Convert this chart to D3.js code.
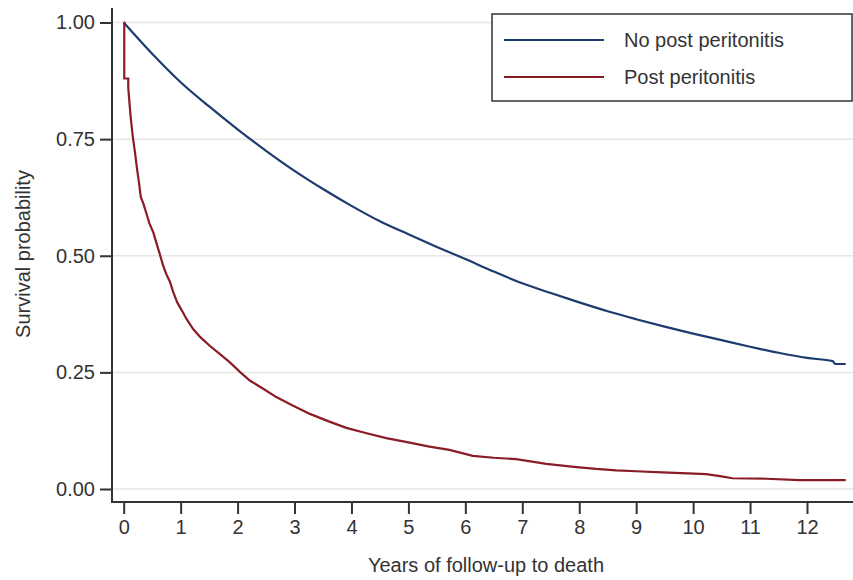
<!DOCTYPE html>
<html lang="en">
<head>
<meta charset="utf-8">
<title>Survival by peritonitis</title>
<script src="https://cdn.jsdelivr.net/npm/d3@7"></script>
<style>
  body { margin: 0; background: #fff; }
  text { font-family: "Liberation Sans", Arial, sans-serif; fill: #333; }
</style>
</head>
<body>
<script>
// series names
var seriesNames = ["No post peritonitis", "Post peritonitis"];

// No post peritonitis (years, survival)
var noPostT = [0, 0.5, 1, 1.5, 2, 2.5, 3, 3.5, 4, 4.5, 5, 5.5, 6, 6.5, 7, 7.5, 8, 8.5, 9, 9.5, 10, 10.5, 11, 11.5, 12, 12.45, 12.5, 12.68];
var noPostS = [1.00, 0.933, 0.872, 0.820, 0.771, 0.725, 0.682, 0.643, 0.607, 0.574, 0.546, 0.519, 0.493, 0.466, 0.441, 0.420, 0.400, 0.381, 0.364, 0.348, 0.333, 0.319, 0.305, 0.292, 0.281, 0.274, 0.268, 0.268];

// Post peritonitis (corners included)
var postT = [0, 0.01, 0.01, 0.08, 0.08, 0.12, 0.16, 0.20, 0.23, 0.27, 0.30, 0.35, 0.40, 0.45, 0.52, 0.58, 0.63, 0.69, 0.75, 0.81, 0.87, 0.94, 1.02, 1.10, 1.22, 1.35, 1.51, 1.68, 1.86, 2.05, 2.22, 2.45, 2.68, 2.95, 3.27, 3.6, 3.91, 4.25, 4.61, 5.0, 5.37, 5.72, 6.13, 6.5, 6.89, 7.2, 7.42, 7.95, 8.3, 8.65, 9.0, 9.35, 9.8, 10.23, 10.5, 10.69, 11.28, 11.87, 12.68];
var postS = [1.00, 1.00, 0.88, 0.88, 0.86, 0.80, 0.755, 0.72, 0.69, 0.655, 0.626, 0.61, 0.59, 0.57, 0.55, 0.525, 0.505, 0.48, 0.46, 0.445, 0.422, 0.40, 0.383, 0.365, 0.343, 0.325, 0.307, 0.29, 0.272, 0.25, 0.232, 0.215, 0.197, 0.18, 0.161, 0.145, 0.131, 0.12, 0.109, 0.10, 0.091, 0.084, 0.071, 0.067, 0.064, 0.058, 0.054, 0.047, 0.043, 0.040, 0.038, 0.036, 0.034, 0.032, 0.027, 0.023, 0.022, 0.019, 0.019];

var xTicks = [0, 1, 2, 3, 4, 5, 6, 7, 8, 9, 10, 11, 12];
var yTicks = [0, 0.25, 0.5, 0.75, 1];
var colors = ["#1c3b6e", "#8a1c28"];

var W = 853, H = 580;
var svg = d3.select("body").append("svg").attr("width", W).attr("height", H);

var axisX = 112, axisY = 502;
var x = d3.scaleLinear().domain([0, 12]).range([123.7, 807]);
var y = d3.scaleLinear().domain([0, 1]).range([489, 22.5]);

// gridlines
svg.selectAll("line.grid").data(yTicks).enter().append("line")
  .attr("x1", axisX).attr("x2", W)
  .attr("y1", function(d){ return y(d); }).attr("y2", function(d){ return y(d); })
  .attr("stroke", "#e6e6e6").attr("stroke-width", 1.5);

// y axis
var yAxis = svg.append("g").attr("transform", "translate(" + axisX + ",0)")
  .call(d3.axisLeft(y).tickValues(yTicks).tickFormat(d3.format(".2f")).tickSize(12).tickPadding(5));
// x axis
var xAxis = svg.append("g").attr("transform", "translate(0," + axisY + ")")
  .call(d3.axisBottom(x).tickValues(xTicks).tickFormat(d3.format("d")).tickSize(12).tickPadding(6));

[yAxis, xAxis].forEach(function(g){
  g.select(".domain").remove();
  g.selectAll(".tick line").attr("stroke", "#333").attr("stroke-width", 2);
  g.selectAll(".tick text").attr("font-size", 20).attr("fill", "#333")
    .style("font-family", "'Liberation Sans', Arial, sans-serif");
});

svg.append("line").attr("x1", axisX).attr("x2", axisX).attr("y1", 8).attr("y2", axisY + 1)
  .attr("stroke", "#333").attr("stroke-width", 2);
svg.append("line").attr("x1", axisX - 1).attr("x2", W).attr("y1", axisY).attr("y2", axisY)
  .attr("stroke", "#333").attr("stroke-width", 2);

// lines
var noPost = noPostT.map(function(t, i){ return [t, noPostS[i]]; });
var post = postT.map(function(t, i){ return [t, postS[i]]; });

svg.append("path").datum(noPost)
  .attr("d", d3.line().x(function(d){ return x(d[0]); }).y(function(d){ return y(d[1]); }).curve(d3.curveMonotoneX))
  .attr("fill", "none").attr("stroke", colors[0]).attr("stroke-width", 2.2);

svg.append("path").datum(post)
  .attr("d", d3.line().x(function(d){ return x(d[0]); }).y(function(d){ return y(d[1]); }))
  .attr("fill", "none").attr("stroke", colors[1]).attr("stroke-width", 2.2);

// axis titles
svg.append("text").attr("x", 486).attr("y", 572).attr("text-anchor", "middle")
  .attr("font-size", 20).text("Years of follow-up to death");
svg.append("text").attr("transform", "translate(30,254) rotate(-90)").attr("text-anchor", "middle")
  .attr("font-size", 20).text("Survival probability");

// legend
var leg = svg.append("g");
leg.append("rect").attr("x", 492).attr("y", 14).attr("width", 360).attr("height", 87)
  .attr("fill", "#fff").attr("stroke", "#333").attr("stroke-width", 1.5);
seriesNames.forEach(function(name, i){
  var ly = 40 + i * 37;
  leg.append("line").attr("x1", 504).attr("x2", 604).attr("y1", ly).attr("y2", ly)
    .attr("stroke", colors[i]).attr("stroke-width", 2.2);
  leg.append("text").attr("x", 624).attr("y", ly + 7).attr("font-size", 20).text(name);
});
</script>
</body>
</html>
